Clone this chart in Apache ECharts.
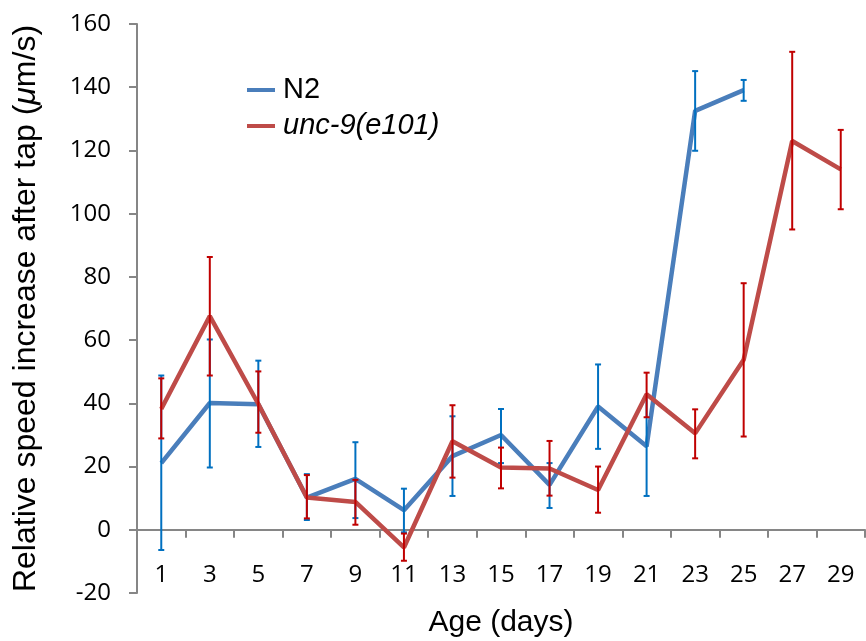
<!DOCTYPE html>
<html>
<head>
<meta charset="utf-8">
<script src="https://cdn.jsdelivr.net/npm/echarts@6/dist/echarts.min.js"></script>
<style>
  html, body { margin: 0; padding: 0; background: #fff; }
  #chart { width: 866px; height: 641px; }
</style>
</head>
<body>
<div id="chart"></div>
<script>
// Age in days
const ages = ['1', '3', '5', '7', '9', '11', '13', '15', '17', '19', '21', '23', '25', '27', '29'];

// N2 mean relative speed increase and error bar limits (μm/s)
const n2Mean = [21.1, 40.1, 39.7, 10.2, 16.1, 6.2, 23.3, 30.0, 14.2, 39.0, 26.4, 132.5, 139.1, null, null];
const n2Low  = [-6.4, 19.7, 26.2, 3.1, 3.7, -0.8, 10.7, 21.1, 6.9, 25.6, 10.7, 119.9, 135.7, null, null];
const n2High = [48.8, 60.2, 53.5, 17.6, 27.7, 13.0, 35.9, 38.2, 21.1, 52.3, 42.0, 145.1, 142.3, null, null];

// unc-9(e101) mean and error bar limits (μm/s)
const uncMean = [38.2, 67.6, 39.8, 10.2, 8.8, -5.6, 28.0, 19.7, 19.4, 12.6, 42.9, 30.5, 53.8, 123.0, 114.0];
const uncLow  = [28.9, 48.8, 30.7, 3.6, 1.6, -9.8, 16.5, 13.1, 10.8, 5.4, 35.6, 22.6, 29.5, 95.0, 101.4];
const uncHigh = [47.9, 86.3, 50.1, 17.3, 15.8, -1.2, 39.4, 26.0, 28.1, 20.0, 49.7, 38.1, 78.0, 151.2, 126.5];

const yTicks = { min: -20, max: 160, interval: 20 };

function barData(low, high) {
  const out = [];
  low.forEach((l, i) => {
    if (l !== null && high[i] !== null) out.push([i, l, high[i]]);
  });
  return out;
}

function errorBarRenderer(color) {
  return function (params, api) {
    const x = api.value(0);
    const lo = api.coord([x, api.value(1)]);
    const hi = api.coord([x, api.value(2)]);
    const cap = 3;
    const style = { stroke: color, lineWidth: 2 };
    return {
      type: 'group',
      children: [
        { type: 'line', shape: { x1: lo[0], y1: lo[1], x2: hi[0], y2: hi[1] }, style },
        { type: 'line', shape: { x1: hi[0] - cap, y1: hi[1], x2: hi[0] + cap, y2: hi[1] }, style },
        { type: 'line', shape: { x1: lo[0] - cap, y1: lo[1], x2: lo[0] + cap, y2: lo[1] }, style }
      ]
    };
  };
}

const axisGray = '#868686';
const titleFont = 'Liberation Sans';
const tickFont = 'Open Sans';
const chart = echarts.init(document.getElementById('chart'), null, { renderer: 'canvas' });

chart.setOption({
  animation: false,
  backgroundColor: '#fff',
  grid: { left: 137, right: 1, top: 24, bottom: 48, containLabel: false, outerBoundsMode: 'none' },
  legend: {
    orient: 'vertical',
    left: 242,
    top: 70,
    itemWidth: 28,
    itemHeight: 4,
    itemGap: 6,
    icon: 'rect',
    data: ['N2', 'unc-9(e101)'],
    formatter: name => name === 'N2' ? name : '{i|' + name + '}',
    textStyle: {
      fontFamily: titleFont,
      fontSize: 29,
      color: '#000',
      lineHeight: 30,
      padding: [0, 0, 0, 3],
      rich: { i: { fontStyle: 'italic', fontFamily: titleFont, fontSize: 29, lineHeight: 30, color: '#000' } }
    }
  },
  xAxis: {
    type: 'category',
    data: ages,
    boundaryGap: true,
    name: 'Age (days)',
    nameLocation: 'middle',
    nameGap: 78,
    nameTextStyle: { fontFamily: titleFont, fontSize: 30, color: '#000' },
    axisLine: { onZero: false, lineStyle: { color: axisGray, width: 2 } },
    axisTick: { show: true, interval: 0, length: 8, lineStyle: { color: axisGray, width: 2 } },
    axisLabel: { interval: 0, margin: 33, fontFamily: tickFont, fontSize: 24, color: '#000' }
  },
  yAxis: {
    type: 'value',
    min: yTicks.min,
    max: yTicks.max,
    interval: yTicks.interval,
    name: '{n|Relative speed increase after tap (}{i|μ}{n|m/s)}',
    nameLocation: 'middle',
    nameGap: 95,
    nameTextStyle: {
      rich: {
        n: { fontFamily: titleFont, fontSize: 32, color: '#000' },
        i: { fontFamily: titleFont, fontSize: 32, fontStyle: 'italic', color: '#000' }
      }
    },
    axisLine: { show: true, lineStyle: { color: axisGray, width: 2 } },
    axisTick: { show: true, length: 8, lineStyle: { color: axisGray, width: 2 } },
    axisLabel: { margin: 26, fontFamily: tickFont, fontSize: 24, color: '#000' },
    splitLine: { show: false }
  },
  series: [
    {
      name: 'N2',
      type: 'line',
      data: n2Mean,
      symbol: 'none',
      color: '#4A7EBB',
      lineStyle: { width: 4.5, color: '#4A7EBB' },
      z: 2
    },
    {
      name: 'N2 error',
      type: 'custom',
      data: barData(n2Low, n2High),
      renderItem: errorBarRenderer('#0070C0'),
      encode: { x: 0, y: [1, 2] },
      z: 3
    },
    {
      name: 'unc-9(e101)',
      type: 'line',
      data: uncMean,
      symbol: 'none',
      color: '#BE4B48',
      lineStyle: { width: 4.5, color: '#BE4B48' },
      z: 4
    },
    {
      name: 'unc-9 error',
      type: 'custom',
      data: barData(uncLow, uncHigh),
      renderItem: errorBarRenderer('#C00000'),
      encode: { x: 0, y: [1, 2] },
      z: 5
    }
  ]
});

// Lift the category axis (line, ticks, labels and title) up to the y = 0 level
const bottomY = chart.convertToPixel({ yAxisIndex: 0 }, yTicks.min);
const zeroY = chart.convertToPixel({ yAxisIndex: 0 }, 0);
chart.setOption({ xAxis: { offset: -(bottomY - zeroY) } });
</script>
</body>
</html>
